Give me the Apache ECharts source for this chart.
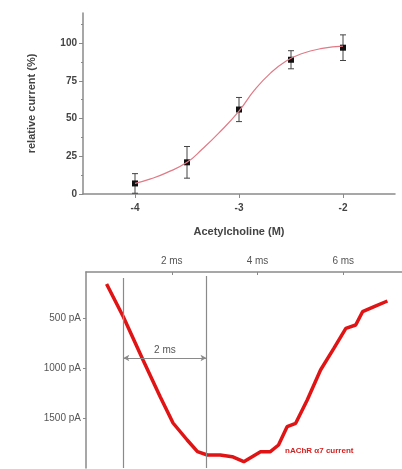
<!DOCTYPE html>
<html>
<head>
<meta charset="utf-8">
<script src="https://cdn.jsdelivr.net/npm/echarts@6/dist/echarts.min.js"></script>
<style>
  html, body { margin: 0; padding: 0; background: #fff; }
  #chart { width: 402px; height: 469px; }
</style>
</head>
<body>
<div id="chart"></div>
<script>
// dose-response (top panel)
var doseLog = [-4, -3.5, -3, -2.5, -2];
var doseMean = [7, 21, 56, 89, 97];
var doseErr = [6.5, 10.5, 8, 6, 8.5];
var fitX = [-4, -3.85, -3.7, -3.5, -3.35, -3.2, -3, -2.85, -2.7, -2.55, -2.4, -2.2, -2];
var fitY = [7, 10, 14, 21, 30, 40, 55, 69, 80, 88, 93, 96.5, 98];
var doseTicks = [-4, -3, -2];
var pctTicks = [0, 25, 50, 75, 100];
var pctMinor = [12.5, 37.5, 62.5, 87.5, 112.5];

// current trace (bottom panel)
var traceT = [0.48, 0.87, 1.33, 1.73, 2.03, 2.36, 2.6, 2.83, 3.13, 3.41, 3.68, 4.07, 4.3, 4.49,
              4.69, 4.89, 5.16, 5.47, 5.78, 6.06, 6.29, 6.45, 6.72, 7.03];
var tracePA = [160, 487, 920, 1287, 1550, 1720, 1837, 1870, 1870, 1887, 1937, 1837, 1837, 1770,
               1587, 1553, 1320, 1020, 803, 603, 570, 437, 387, 330];
var msTicks = [2, 4, 6];
var paTicks = [500, 1000, 1500];
var cursorT = [0.87, 2.81];

var gray = '#8a8a8a';
var txt = '#444';

function pairs(xs, ys) {
    return xs.map(function (x, i) { return [x, ys[i]]; });
}

var errData = doseLog.map(function (x, i) {
    return [x, doseMean[i] - doseErr[i], doseMean[i] + doseErr[i]];
});

var option = {
    animation: false,
    grid: [
        { left: 83, top: 13, width: 312, height: 181 },
        { left: 86, top: 272, right: 0, height: 196 }
    ],
    xAxis: [
        {
            gridIndex: 0, type: 'value', min: -4.5, max: -1.5,
            name: 'Acetylcholine (M)', nameLocation: 'middle', nameGap: 32,
            nameTextStyle: { fontSize: 11, fontWeight: 'bold', color: txt, fontFamily: 'Liberation Sans' },
            axisLine: { lineStyle: { color: gray, width: 1.5 } },
            axisTick: { customValues: doseTicks, length: 4, lineStyle: { color: gray } },
            axisLabel: { customValues: doseTicks, fontSize: 10, fontWeight: 'bold', color: txt,
                         fontFamily: 'Liberation Sans', margin: 9 },
            splitLine: { show: false }
        },
        {
            gridIndex: 1, type: 'value', position: 'top', min: 0, max: 7.37,
            axisLine: { lineStyle: { color: gray, width: 1.5 } },
            axisTick: { customValues: msTicks, inside: true, length: 3, lineStyle: { color: gray } },
            axisLabel: { customValues: msTicks, fontSize: 10, color: '#555', fontFamily: 'Liberation Sans',
                         margin: 6, formatter: function (v) { return v + ' ms'; } },
            splitLine: { show: false }
        }
    ],
    yAxis: [
        {
            gridIndex: 0, type: 'value', min: 0, max: 120,
            name: 'relative current (%)', nameLocation: 'middle', nameGap: 46,
            nameTextStyle: { fontSize: 11, fontWeight: 'bold', color: txt, fontFamily: 'Liberation Sans' },
            axisLine: { show: true, lineStyle: { color: gray, width: 1.5 } },
            axisTick: { customValues: pctTicks, length: 4, lineStyle: { color: gray } },
            axisLabel: { customValues: pctTicks, fontSize: 10, fontWeight: 'bold', color: txt,
                         fontFamily: 'Liberation Sans', margin: 6 },
            splitLine: { show: false }
        },
        {
            // minor ticks only
            gridIndex: 0, type: 'value', min: 0, max: 120, position: 'left',
            axisLine: { show: false },
            axisTick: { customValues: pctMinor, length: 2, lineStyle: { color: gray } },
            axisLabel: { show: false },
            splitLine: { show: false }
        },
        {
            gridIndex: 1, type: 'value', inverse: true, min: 40, max: 2000,
            axisLine: { show: true, lineStyle: { color: gray, width: 1.5 } },
            axisTick: { customValues: paTicks, length: 3, lineStyle: { color: gray } },
            axisLabel: { customValues: paTicks, fontSize: 10, color: '#555', fontFamily: 'Liberation Sans',
                         margin: 5, formatter: function (v) { return v + ' pA'; } },
            splitLine: { show: false }
        }
    ],
    series: [
        {
            type: 'line', xAxisIndex: 0, yAxisIndex: 0,
            data: pairs(fitX, fitY), smooth: true, showSymbol: false,
            lineStyle: { color: '#e07a86', width: 1.2 }
        },
        {
            type: 'custom', xAxisIndex: 0, yAxisIndex: 0,
            data: errData,
            renderItem: function (params, api) {
                var top = api.coord([api.value(0), api.value(2)]);
                var bot = api.coord([api.value(0), api.value(1)]);
                var w = 3;
                var st = { stroke: '#444', lineWidth: 1 };
                return {
                    type: 'group',
                    children: [
                        { type: 'line', shape: { x1: top[0], y1: top[1], x2: bot[0], y2: bot[1] }, style: st },
                        { type: 'line', shape: { x1: top[0] - w, y1: top[1], x2: top[0] + w, y2: top[1] }, style: st },
                        { type: 'line', shape: { x1: bot[0] - w, y1: bot[1], x2: bot[0] + w, y2: bot[1] }, style: st }
                    ]
                };
            }
        },
        {
            type: 'scatter', xAxisIndex: 0, yAxisIndex: 0,
            data: pairs(doseLog, doseMean), symbol: 'rect', symbolSize: 6,
            itemStyle: { color: '#111', opacity: 1 }
        },
        {
            type: 'line', xAxisIndex: 1, yAxisIndex: 2,
            data: pairs(traceT, tracePA), showSymbol: false,
            lineStyle: { color: '#e01414', width: 3.5 },
            markLine: {
                silent: true,
                symbol: 'none',
                lineStyle: { color: gray, width: 1.2, type: 'solid' },
                label: { show: false },
                data: [
                    [{ coord: [cursorT[0], 100] }, { coord: [cursorT[0], 2000] }],
                    [{ coord: [cursorT[1], 80] }, { coord: [cursorT[1], 2000] }],
                    [
                        {
                            coord: [cursorT[0], 900], symbol: 'arrow', symbolSize: [5, 6],
                            label: { show: true, position: 'middle', formatter: '2 ms', fontSize: 10,
                                     color: '#555', fontFamily: 'Liberation Sans', distance: 3 }
                        },
                        { coord: [cursorT[1], 900], symbol: 'arrow', symbolSize: [5, 6] }
                    ]
                ]
            }
        }
    ],
    graphic: [
        {
            type: 'text', left: 285, top: 447,
            style: { text: 'nAChR \u03b17 current', fill: '#d42020', fontSize: 8, fontWeight: 'bold',
                     fontFamily: 'Liberation Sans' }
        }
    ]
};

var chart = echarts.init(document.getElementById('chart'));
chart.setOption(option);
</script>
</body>
</html>
